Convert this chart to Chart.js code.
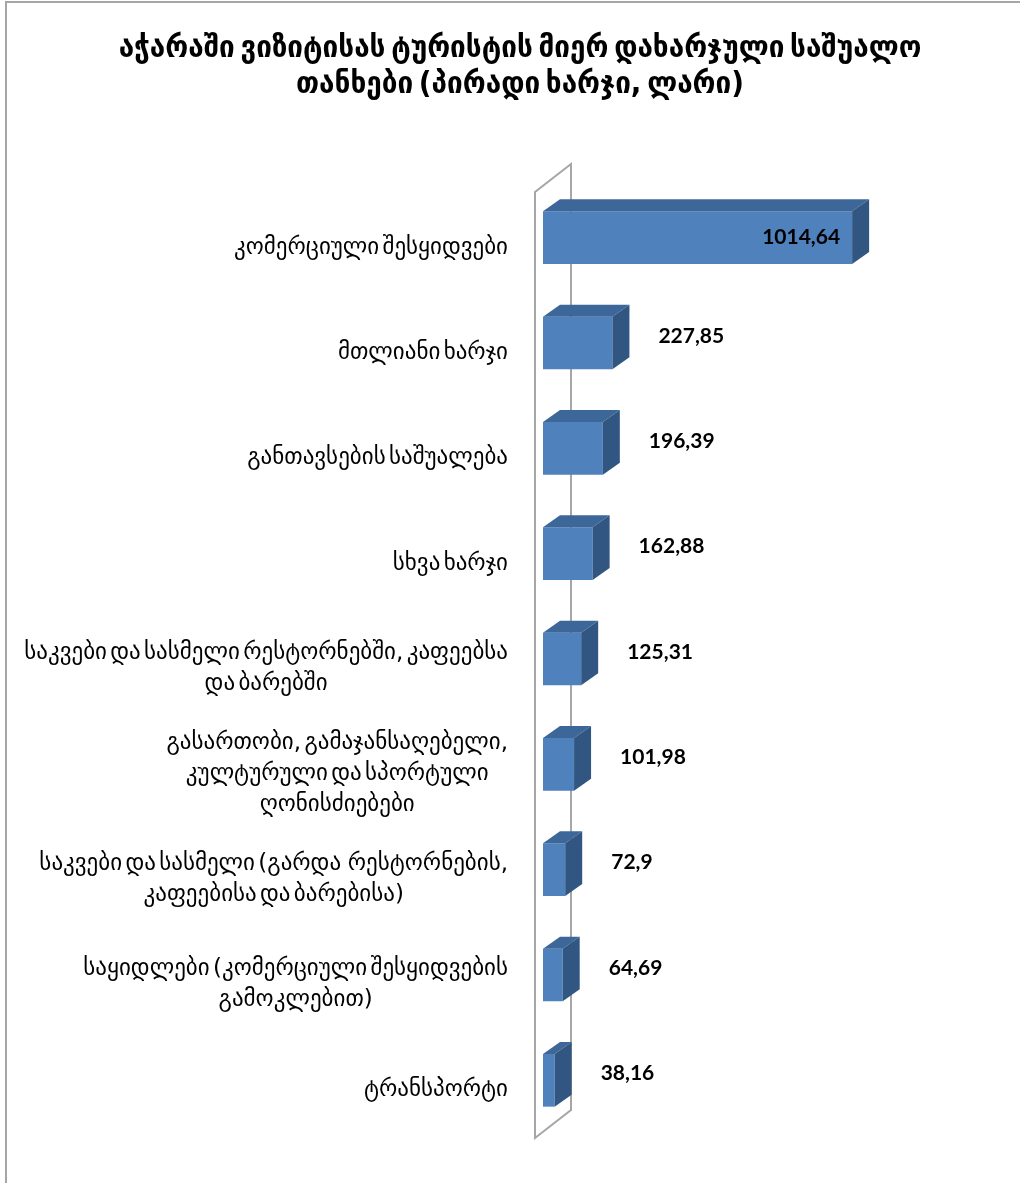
<!DOCTYPE html>
<html><head><meta charset="utf-8">
<script src="https://cdn.jsdelivr.net/npm/chart.js@4.4.0/dist/chart.umd.min.js"></script>
<style>
html,body{margin:0;padding:0;background:#fff;}
#wrap{position:relative;width:1020px;height:1183px;overflow:hidden}
#frame{position:absolute;left:5px;top:1px;right:-5px;bottom:-5px;border-top:2px solid #a6a6a6;border-left:2px solid #a6a6a6;pointer-events:none}
canvas{position:absolute;left:0;top:0}
</style></head><body>
<div id="wrap"><canvas id="c" width="1020" height="1183"></canvas><div id="frame"></div></div>
<script>
const titleLines = [
  "აჭარაში ვიზიტისას ტურისტის მიერ დახარჯული საშუალო",
  "თანხები (პირადი ხარჯი, ლარი)"
];
const categories = [
  "კომერციული შესყიდვები",
  "მთლიანი ხარჯი",
  "განთავსების საშუალება",
  "სხვა ხარჯი",
  ["საკვები და სასმელი რესტორნებში, კაფეებსა", "და ბარებში"],
  ["გასართობი, გამაჯანსაღებელი,", "კულტურული და სპორტული", "ღონისძიებები"],
  ["საკვები და სასმელი (გარდა  რესტორნების,", "კაფეებისა და ბარებისა)"],
  ["საყიდლები (კომერციული შესყიდვების", "გამოკლებით)"],
  "ტრანსპორტი"
];
const values = [1014.64, 227.85, 196.39, 162.88, 125.31, 101.98, 72.9, 64.69, 38.16];

const DX = 17, DY = -12;
const CAT_FONT = '23px "DejaVu Sans"';
const VAL_FONT = 'bold 21px Lato';

const threeD = {
  id: 'threeD',
  beforeDraw(chart) {
    chart.ctx.wordSpacing = '-4px';
  },
  beforeDatasetsDraw(chart) {
    const { ctx, chartArea: a } = chart;
    const x0 = a.left - 8, x1 = a.left + 28, yt = a.top + 7, yb = a.bottom + 5, d = -28;
    ctx.save();
    ctx.strokeStyle = '#a6a6a6';
    ctx.lineWidth = 2;
    ctx.beginPath();
    ctx.moveTo(x0, yb); ctx.lineTo(x0, yt); ctx.lineTo(x1, yt + d);
    ctx.lineTo(x1, yb + d); ctx.closePath();
    ctx.stroke();
    ctx.restore();
  },
  afterDatasetsDraw(chart) {
    const { ctx } = chart;
    const meta = chart.getDatasetMeta(0);
    ctx.save();
    meta.data.forEach((bar) => {
      const p = bar.getProps(['x', 'y', 'base', 'height'], true);
      const t = p.y - p.height / 2, b = p.y + p.height / 2;
      ctx.fillStyle = '#3D6799';
      ctx.beginPath();
      ctx.moveTo(p.base, t); ctx.lineTo(p.x, t); ctx.lineTo(p.x + DX, t + DY);
      ctx.lineTo(p.base + DX, t + DY); ctx.closePath(); ctx.fill();
      ctx.fillStyle = '#315682';
      ctx.beginPath();
      ctx.moveTo(p.x, t); ctx.lineTo(p.x + DX, t + DY); ctx.lineTo(p.x + DX, b + DY);
      ctx.lineTo(p.x, b); ctx.closePath(); ctx.fill();
    });
    ctx.font = VAL_FONT;
    ctx.fillStyle = '#000';
    ctx.textBaseline = 'middle';
    const maxV = Math.max(...values);
    meta.data.forEach((bar, i) => {
      const p = bar.getProps(['x', 'y'], true);
      const txt = String(values[i]).replace('.', ',');
      if (values[i] === maxV) {
        ctx.textAlign = 'right';
        ctx.fillText(txt, p.x - 12, p.y);
      } else {
        ctx.textAlign = 'left';
        ctx.fillText(txt, p.x + 46, p.y - 7);
      }
    });
    ctx.restore();
  },
  afterDraw(chart) {
    const { ctx, chartArea: a } = chart;
    const yScale = chart.scales.y;
    const right = a.left - 35;
    const LH = 31;
    ctx.save();
    ctx.font = CAT_FONT;
    ctx.fillStyle = '#000';
    ctx.textBaseline = 'middle';
    ctx.textAlign = 'center';
    categories.forEach((lab, i) => {
      const lines = Array.isArray(lab) ? lab : [lab];
      const cy = yScale.getPixelForValue(i) + 10;
      const w = Math.max(...lines.map(l => ctx.measureText(l).width));
      const cx = right - w / 2;
      lines.forEach((l, j) => ctx.fillText(l, cx, cy + (j - (lines.length - 1) / 2) * LH));
    });
    ctx.restore();
  }
};

new Chart(document.getElementById('c'), {
  type: 'bar',
  data: {
    labels: categories,
    datasets: [{
      data: values,
      backgroundColor: '#4F81BD',
      borderWidth: 0,
      barPercentage: 0.5,
      categoryPercentage: 1
    }]
  },
  options: {
    indexAxis: 'y',
    responsive: false,
    animation: false,
    devicePixelRatio: 1,
    layout: { padding: { left: 40, right: 20, top: 0, bottom: 50 } },
    plugins: {
      legend: { display: false },
      tooltip: { enabled: false },
      title: {
        display: true,
        text: titleLines,
        color: '#000',
        font: { family: '"DejaVu Sans Condensed"', size: 31, weight: 'bold', lineHeight: 36 / 31 },
        padding: { top: 31, bottom: 82 }
      }
    },
    scales: {
      x: { display: false, min: 0, max: 1500 },
      y: {
        display: true,
        grid: { display: false, drawTicks: false },
        border: { display: false },
        ticks: { display: false },
        afterFit(s) { s.width = 503; }
      }
    }
  },
  plugins: [threeD]
});
</script>
</body></html>
